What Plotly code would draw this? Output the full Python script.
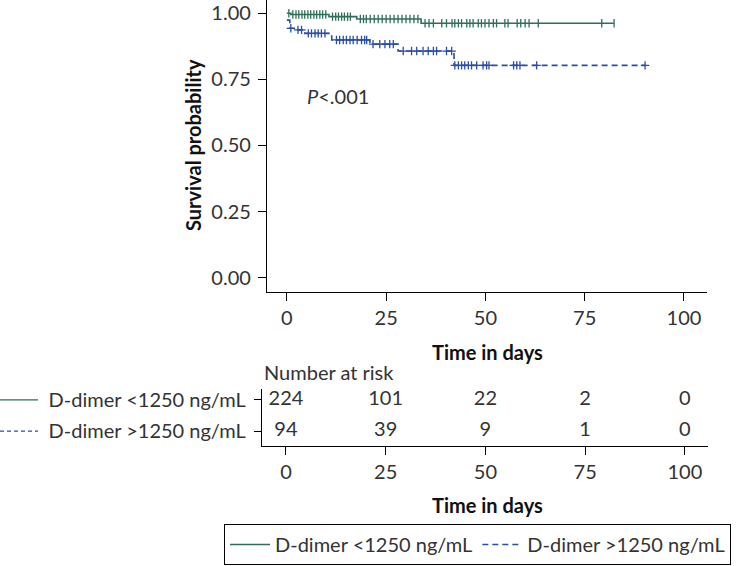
import numpy as np
import plotly.graph_objects as go

# ---------------- data ----------------
green_name = "D-dimer &lt;1250 ng/mL"
blue_name = "D-dimer &gt;1250 ng/mL"

green_step_t = [0, 1.0, 10.6, 17.6, 33.8]
green_step_s = [1.0, 0.995, 0.987, 0.978, 0.962]
green_end_t = 82.4
green_censor_t = [0.5, 1.5, 2.3, 3.0, 3.8, 4.5, 5.3, 6.0, 6.8, 7.5, 8.3, 9.0, 9.8,
                  11.5, 12.3, 13.0, 13.8, 14.5, 15.3, 16.0, 18.5, 19.3, 20.0, 21, 22,
                  23, 24, 25, 26, 27, 28, 29, 30, 31, 32, 33, 34.8, 35.8, 36.9, 39.0,
                  40.2, 41.6, 42.3, 43.2, 44.0, 45.3, 46.1, 46.9, 48.2, 49.0, 49.9,
                  50.9, 52.0, 52.8, 54.9, 55.7, 58.0, 58.9, 60.0, 61.0, 63.3, 79.3, 82.4]

blue_step_t = [0, 0.75, 2.4, 4.5, 11.3, 20.9, 28.0, 42.1]
blue_step_s = [0.974, 0.943, 0.937, 0.924, 0.899, 0.883, 0.857, 0.803]
blue_end_t = 90.2
blue_censor_t = [1.0, 2.8, 3.7, 5.4, 6.2, 7.1, 7.9, 8.7, 9.6, 12.5, 13.3, 14.2, 15.0,
                 15.9, 16.7, 17.7, 18.8, 19.6, 20.1, 21.7, 23.4, 24.7, 25.9, 26.8,
                 29.3, 31.4, 32.7, 34.3, 35.6, 36.9, 37.7, 40.2, 41.5, 42.3, 43.2,
                 44.0, 44.8, 45.7, 46.5, 47.8, 49.4, 50.3, 50.9, 57.1, 57.9, 58.7,
                 62.9, 90.2]

risk_times = [0, 25, 50, 75, 100]
risk_green = [224, 101, 22, 2, 0]
risk_blue = [94, 39, 9, 1, 0]

x_ticks = [0, 25, 50, 75, 100]
y_ticks = [0, 0.25, 0.5, 0.75, 1.0]
y_ticktext = ["0.00", "0.25", "0.50", "0.75", "1.00"]

# ---------------- style ----------------
GREEN = "#2f6f5a"
BLUE = "#2b4ea6"
FONT = "Lato"
TXT = "#333333"
FS = 20
W, H = 750, 566


def step_series(ts, ss, end_t):
    return list(ts) + [end_t], list(ss) + [ss[-1]]


def surv_at(ts, ss, t):
    i = np.searchsorted(np.array(ts), t, side="right") - 1
    return ss[max(i, 0)]


gx, gy = step_series(green_step_t, green_step_s, green_end_t)
bx, by = step_series(blue_step_t, blue_step_s, blue_end_t)

fig = go.Figure()
fig.add_trace(go.Scatter(x=gx, y=gy, mode="lines", line=dict(color=GREEN, width=1.6, shape="hv"),
                         name=green_name, xaxis="x", yaxis="y"))
fig.add_trace(go.Scatter(x=bx, y=by, mode="lines",
                         line=dict(color=BLUE, width=1.6, shape="hv", dash="6px,4px"),
                         name=blue_name, xaxis="x", yaxis="y"))
fig.add_trace(go.Scatter(x=green_censor_t, y=[surv_at(green_step_t, green_step_s, t) for t in green_censor_t],
                         mode="markers", marker=dict(symbol="line-ns", size=6, line=dict(color=GREEN, width=1.3)),
                         showlegend=False, xaxis="x", yaxis="y"))
fig.add_trace(go.Scatter(x=blue_censor_t, y=[surv_at(blue_step_t, blue_step_s, t) for t in blue_censor_t],
                         mode="markers", marker=dict(symbol="cross-thin", size=6, line=dict(color=BLUE, width=1.3)),
                         showlegend=False, xaxis="x", yaxis="y"))

# risk table numbers
fig.add_trace(go.Scatter(x=risk_times, y=[1] * len(risk_times), text=[str(v) for v in risk_green],
                         mode="text", textfont=dict(size=FS, color=TXT, family=FONT),
                         showlegend=False, xaxis="x2", yaxis="y2"))
fig.add_trace(go.Scatter(x=risk_times, y=[0] * len(risk_times), text=[str(v) for v in risk_blue],
                         mode="text", textfont=dict(size=FS, color=TXT, family=FONT),
                         showlegend=False, xaxis="x2", yaxis="y2"))

axis_common = dict(showline=True, linecolor="black", linewidth=1.2, ticks="outside",
                   tickcolor="black", tickwidth=1.2, showgrid=False, zeroline=False,
                   automargin=False, tickfont=dict(size=FS, color=TXT, family=FONT))

fig.update_layout(
    width=W, height=H, margin=dict(l=0, r=0, t=0, b=0, autoexpand=False),
    paper_bgcolor="white", plot_bgcolor="white",
    font=dict(family=FONT, size=FS, color=TXT),
    xaxis=dict(domain=[267 / W, 707 / W], range=[-5, 105.8], tickvals=x_ticks, anchor="y",
               ticklen=8, **axis_common),
    yaxis=dict(domain=[1 - 292 / H, 1], range=[-0.054, 1.050], tickvals=y_ticks, ticktext=y_ticktext,
               anchor="x", ticklen=8, ticklabelstandoff=3, **axis_common),
    xaxis2=dict(domain=[262 / W, 708 / W], range=[-6.0, 105.8], tickvals=x_ticks, anchor="y2",
                ticklen=8, **axis_common),
    yaxis2=dict(domain=[1 - 446 / H, 1 - 389 / H], range=[-0.48, 1.35], tickvals=[0, 1],
                ticktext=[blue_name, green_name], anchor="x2", ticklen=7, ticklabelstandoff=4,
                **axis_common),
    legend=dict(orientation="h", x=224 / W, y=1 - 524 / H, xanchor="left", yanchor="top",
                bordercolor="black", borderwidth=1, font=dict(size=FS, color=TXT, family=FONT),
                bgcolor="white", itemwidth=40),
    showlegend=True,
)

title_font = dict(size=FS, color="#111111", family=FONT, weight="bold")
fig.add_annotation(text="Survival probability", x=193 / W, y=1 - 145 / H, xref="paper", yref="paper",
                   xanchor="center", yanchor="middle", textangle=-90, showarrow=False, font=title_font)
fig.add_annotation(text="Time in days", x=487 / W, y=1 - 352 / H, xref="paper", yref="paper",
                   xanchor="center", yanchor="middle", showarrow=False, font=title_font)
fig.add_annotation(text="Time in days", x=487 / W, y=1 - 505 / H, xref="paper", yref="paper",
                   xanchor="center", yanchor="middle", showarrow=False, font=title_font)
fig.add_annotation(text="Number at risk", x=262 / W, y=1 - 372 / H, xref="paper", yref="paper",
                   xanchor="left", yanchor="middle", showarrow=False,
                   font=dict(size=FS, color=TXT, family=FONT))
fig.add_annotation(text="<i>P</i>&lt;.001", x=305 / W, y=1 - 96 / H, xref="paper", yref="paper",
                   xanchor="left", yanchor="middle", showarrow=False,
                   font=dict(size=FS, color=TXT, family=FONT))

# line samples next to risk-table row labels
fig.add_shape(type="line", xref="paper", yref="y2", x0=0, x1=38 / W, y0=1, y1=1,
              line=dict(color=GREEN, width=1.3))
fig.add_shape(type="line", xref="paper", yref="y2", x0=0, x1=38 / W, y0=0, y1=0,
              line=dict(color=BLUE, width=1.3, dash="4px,3px"))

fig.write_html("out.html", post_script="document.body.style.margin='0';",
               config={"displayModeBar": False})
